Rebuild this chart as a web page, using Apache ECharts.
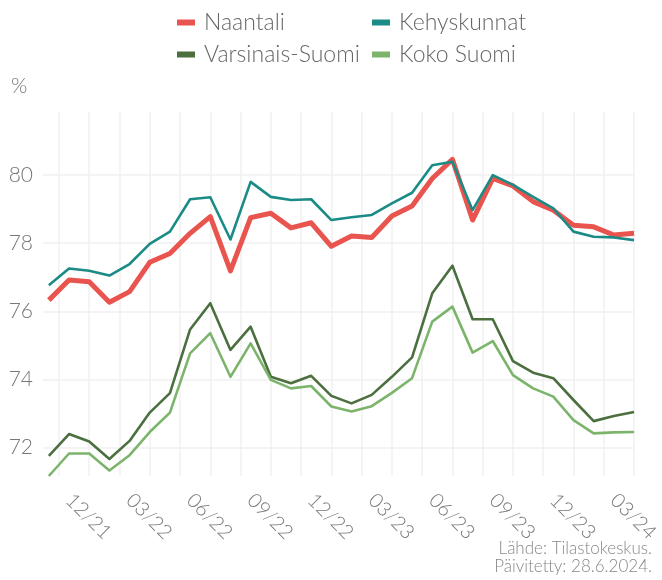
<!DOCTYPE html>
<html style="height: 100%">
<head>
  <meta charset="utf-8">
  <title>Naantali</title>
</head>
<body style="height: 100%; margin: 0; background: #fff">
<div id="container" style="width: 662px; height: 580px"></div>
<script type="text/javascript" src="https://cdn.jsdelivr.net/npm/echarts@6/dist/echarts.min.js"></script>
<script type="text/javascript">
  // kuukaudet 11/21 - 04/24
  const months = [
    '11/21', '12/21',
    '01/22', '02/22', '03/22', '04/22', '05/22', '06/22', '07/22', '08/22', '09/22', '10/22', '11/22', '12/22',
    '01/23', '02/23', '03/23', '04/23', '05/23', '06/23', '07/23', '08/23', '09/23', '10/23', '11/23', '12/23',
    '01/24', '02/24', '03/24', '04/24'
  ];
  const naantali = [76.33, 76.92, 76.87, 76.27, 76.58, 77.44, 77.70, 78.29, 78.78, 77.19,
    78.75, 78.88, 78.45, 78.60, 77.91, 78.21, 78.17, 78.80, 79.09, 79.90,
    80.46, 78.68, 79.90, 79.68, 79.22, 78.97, 78.53, 78.48, 78.24, 78.29];
  const kehyskunnat = [76.77, 77.26, 77.19, 77.05, 77.39, 77.98, 78.34, 79.29, 79.35, 78.11,
    79.80, 79.36, 79.27, 79.29, 78.68, 78.76, 78.83, 79.17, 79.48, 80.29,
    80.39, 78.97, 80.00, 79.71, 79.36, 79.02, 78.34, 78.19, 78.17, 78.09];
  const varsinaisSuomi = [71.76, 72.40, 72.18, 71.67, 72.20, 73.03, 73.60, 75.47, 76.24, 74.87,
    75.55, 74.08, 73.89, 74.11, 73.52, 73.30, 73.55, 74.08, 74.65, 76.53,
    77.34, 75.77, 75.77, 74.54, 74.20, 74.04, 73.40, 72.78, 72.93, 73.05];
  const kokoSuomi = [71.17, 71.83, 71.83, 71.33, 71.78, 72.46, 73.03, 74.77, 75.36, 74.08,
    75.06, 73.99, 73.74, 73.81, 73.21, 73.06, 73.22, 73.61, 74.04, 75.70,
    76.14, 74.79, 75.13, 74.13, 73.74, 73.50, 72.81, 72.42, 72.45, 72.46];
  const yTicks = [72, 74, 76, 78, 80];

  const seriesNames = ['Naantali', 'Kehyskunnat', 'Varsinais-Suomi', 'Koko Suomi'];
  const seriesData = [naantali, kehyskunnat, varsinaisSuomi, kokoSuomi];
  const colors = ['#E9544E', '#1B8B86', '#4B6F3F', '#7CB46B'];
  const widths = [5, 2.6, 2.6, 2.6];

  // neljännesvuosien nimiöt ja pystyviivat 1,5 kk välein
  const labelIdx = [];
  months.forEach((m, i) => { if (['03', '06', '09', '12'].includes(m.slice(0, 2))) labelIdx.push(i); });
  const gridIdx = [];
  for (let v = 0.5; v <= months.length - 1; v += 1.5) gridIdx.push(v);

  const font = 'Lato';
  const grey = '#777';

  let chart = echarts.init(document.getElementById('container'));
  let option = {
    animation: false,
    color: colors,
    title: {
      text: '%', left: 6, top: 71,
      textStyle: { fontFamily: font, fontWeight: 300, fontSize: 21, color: grey }
    },
    legend: [0, 1].map(col => ({
      data: seriesNames.filter((n, i) => i % 2 === col),
      orient: 'vertical',
      left: col === 0 ? 172 : 367,
      top: 6,
      itemGap: 9,
      itemWidth: 18,
      itemHeight: 6,
      icon: 'rect',
      selectedMode: false,
      itemStyle: { borderWidth: 0 },
      textStyle: { fontFamily: font, fontWeight: 300, fontSize: 23, color: '#666', lineHeight: 23, padding: [0, 0, 0, 4] }
    })),
    grid: { left: 43, right: 18.5, top: 112, bottom: 104, containLabel: false },
    xAxis: {
      type: 'value',
      min: -0.29,
      max: months.length - 1,
      axisLine: { show: false },
      axisTick: { show: false, customValues: gridIdx },
      splitLine: { show: true, lineStyle: { color: '#f0f0f0', width: 1.5 } },
      axisLabel: {
        customValues: labelIdx,
        formatter: v => months[Math.round(v)],
        rotate: -45,
        margin: 21,
        fontFamily: font, fontWeight: 300, fontSize: 20, color: grey
      }
    },
    yAxis: {
      type: 'value',
      min: 71.17,
      max: 81.85,
      axisLine: { show: false },
      axisTick: { show: false, customValues: yTicks },
      splitLine: { show: true, lineStyle: { color: '#f0f0f0', width: 1.5 } },
      axisLabel: {
        customValues: yTicks,
        margin: 10,
        fontFamily: font, fontWeight: 300, fontSize: 21, color: grey
      }
    },
    graphic: [
      {
        type: 'text', right: 10, top: 540,
        style: { text: 'Lähde: Tilastokeskus.', font: '300 17px ' + font, fill: '#888', textAlign: 'right' }
      },
      {
        type: 'text', right: 10, top: 558,
        style: { text: 'Päivitetty: 28.6.2024.', font: '300 17px ' + font, fill: '#888', textAlign: 'right' }
      }
    ],
    series: seriesNames.map((name, k) => ({
      name: name,
      type: 'line',
      symbol: 'none',
      data: seriesData[k].map((v, i) => [i, v]),
      lineStyle: { width: widths[k], color: colors[k], join: 'round' },
      itemStyle: { color: colors[k] }
    }))
  };
  chart.setOption(option);
</script>
</body>
</html>
